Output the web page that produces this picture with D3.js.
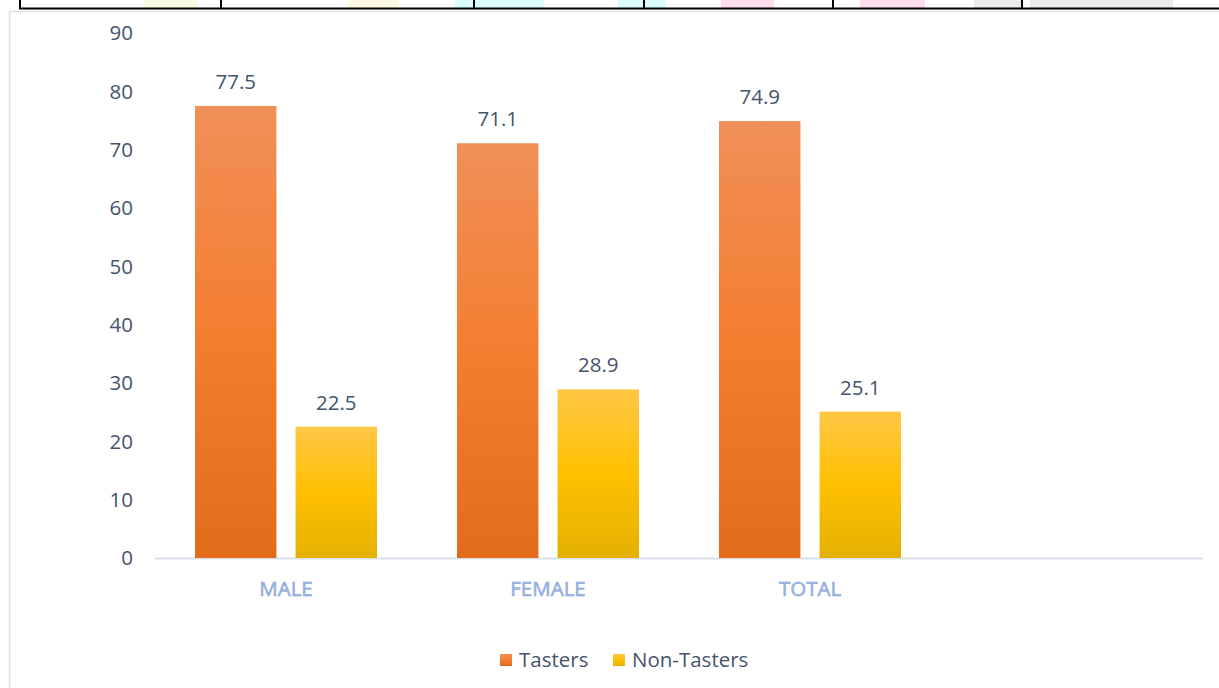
<!DOCTYPE html>
<html>
<head>
<meta charset="utf-8">
<script src="https://cdn.jsdelivr.net/npm/d3@7"></script>
<style>
  html, body { margin: 0; padding: 0; background: #fff; }
  svg { display: block; }
  text { font-family: "Open Sans", "Noto Sans", sans-serif; }
</style>
</head>
<body>
<svg id="chart" width="1219" height="688"></svg>
<script>
const categories = ["MALE", "FEMALE", "TOTAL", ""];
const seriesNames = ["Tasters", "Non-Tasters"];
const tasters = [77.5, 71.1, 74.9, null];
const nonTasters = [22.5, 28.9, 25.1, null];
const yTicks = [0, 10, 20, 30, 40, 50, 60, 70, 80, 90];

const svg = d3.select("#chart");
const W = 1219, H = 688;
const FS = 20.5;

// faint watermark remnants and table lines above the chart
const patches = [
  [144, 197, "#f8fde3"], [348, 399, "#fffbe1"], [455, 544, "#dbfdfd"],
  [618, 666, "#dbfdfd"], [721, 774, "#ffdcee"], [860, 925, "#ffdcee"],
  [974, 1022, "#ebebeb"], [1030, 1173, "#ebebeb"]
];
svg.selectAll("rect.wm").data(patches).join("rect")
  .attr("x", d => d[0]).attr("y", 0).attr("width", d => d[1] - d[0]).attr("height", 8)
  .attr("fill", d => d[2]);
svg.append("line").attr("x1", 19).attr("x2", W).attr("y1", 8.5).attr("y2", 8.5)
  .attr("stroke", "#000").attr("stroke-width", 2);
[20, 221, 474, 644, 833, 1022].forEach(x => {
  svg.append("line").attr("x1", x).attr("x2", x).attr("y1", 0).attr("y2", 9)
    .attr("stroke", "#000").attr("stroke-width", 2);
});

// chart area border
svg.append("path").attr("d", `M9.5,${H} L9.5,11.5 L${W},11.5`)
  .attr("fill", "none").attr("stroke", "#dde2ea").attr("stroke-width", 1.5);

const plot = { left: 155, right: 1203, top: 33, bottom: 558 };

const x = d3.scaleBand().domain(d3.range(categories.length))
  .range([plot.left, plot.right]).paddingInner(0).paddingOuter(0);
const xs = d3.scaleBand().domain([0, 1]).range([40, x.bandwidth() - 40]).paddingInner(0.19);
const y = d3.scaleLinear().domain([0, 90]).range([plot.bottom, plot.top]);

const defs = svg.append("defs");
function grad(id, stops) {
  const g = defs.append("linearGradient").attr("id", id)
    .attr("x1", 0).attr("y1", 0).attr("x2", 0).attr("y2", 1);
  stops.forEach(s => g.append("stop").attr("offset", s[0]).attr("stop-color", s[1]));
}
grad("gT", [[0, "#f09058"], [0.5, "#f47e30"], [1, "#e36b1c"]]);
grad("gN", [[0, "#ffc746"], [0.5, "#ffc000"], [1, "#e4b102"]]);

// y tick labels
svg.append("g").selectAll("text").data(yTicks).join("text")
  .attr("x", 133).attr("y", d => y(d)).attr("dy", "0.35em")
  .attr("text-anchor", "end").attr("font-size", FS).attr("fill", "#44546a")
  .text(d => d);

// axis line
svg.append("line").attr("x1", plot.left).attr("x2", plot.right)
  .attr("y1", plot.bottom + 0.5).attr("y2", plot.bottom + 0.5)
  .attr("stroke", "#d9dfe8").attr("stroke-width", 2);

const series = [
  { name: seriesNames[0], values: tasters, fill: "url(#gT)" },
  { name: seriesNames[1], values: nonTasters, fill: "url(#gN)" }
];

series.forEach((s, si) => {
  const g = svg.append("g");
  const data = s.values.map((v, i) => ({ v, i })).filter(d => d.v != null);
  g.selectAll("rect").data(data).join("rect")
    .attr("x", d => x(d.i) + xs(si)).attr("width", xs.bandwidth())
    .attr("y", d => y(d.v)).attr("height", d => y(0) - y(d.v))
    .attr("fill", s.fill);
  g.selectAll("text").data(data).join("text")
    .attr("x", d => x(d.i) + xs(si) + xs.bandwidth() / 2)
    .attr("y", d => y(d.v) - 15)
    .attr("dy", "-0.1em")
    .attr("text-anchor", "middle").attr("font-size", FS).attr("fill", "#44546a")
    .text(d => d.v.toFixed(1));
});

// category labels
svg.append("g").selectAll("text").data(categories).join("text")
  .attr("x", (d, i) => x(i) + x.bandwidth() / 2).attr("y", 589).attr("dy", "0.35em")
  .attr("text-anchor", "middle").attr("font-size", FS)
  .attr("fill", "#a3bbe8").attr("stroke", "#7d9bd3").attr("stroke-width", 0.5)
  .text(d => d);

// legend
const legend = svg.append("g");
const legItems = [
  { name: seriesNames[0], fill: "url(#gT)", x: 500 },
  { name: seriesNames[1], fill: "url(#gN)", x: 613 }
];
legItems.forEach(l => {
  legend.append("rect").attr("x", l.x).attr("y", 654).attr("width", 12).attr("height", 12).attr("fill", l.fill);
  legend.append("text").attr("x", l.x + 19).attr("y", 660).attr("dy", "0.35em")
    .attr("font-size", FS).attr("fill", "#44546a").text(l.name);
});
</script>
</body>
</html>
